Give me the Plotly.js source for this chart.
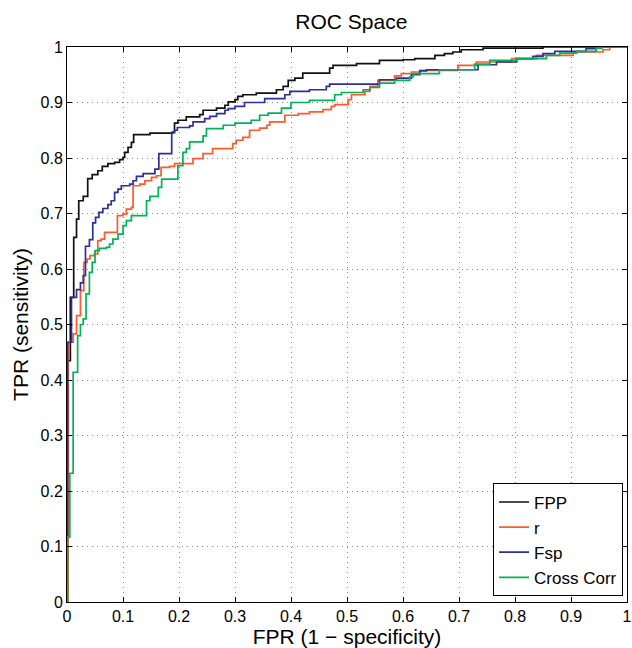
<!DOCTYPE html>
<html>
<head>
<meta charset="utf-8">
<script src="https://cdn.plot.ly/plotly-3.0.1.min.js"></script>
<style>html,body{margin:0;padding:0;background:#fff;}#chart{width:632px;height:648px;}</style>
</head>
<body>
<div id="chart"></div>
<script>
// FPP
var fppX = [0, 0.002, 0.006, 0.012, 0.017, 0.021, 0.029, 0.037, 0.045, 0.055, 0.063, 0.073, 0.085, 0.094, 0.100, 0.103, 0.109, 0.115, 0.119, 0.148, 0.189, 0.192, 0.198, 0.213, 0.237, 0.243, 0.267, 0.282, 0.288, 0.300, 0.305, 0.314, 0.338, 0.374, 0.386, 0.395, 0.407, 0.421, 0.469, 0.475, 0.517, 0.558, 0.600, 0.621, 0.657, 0.674, 0.689, 0.704, 0.743, 0.850, 1.0];
var fppY = [0, 0.435, 0.549, 0.657, 0.690, 0.723, 0.731, 0.763, 0.770, 0.777, 0.785, 0.790, 0.792, 0.797, 0.801, 0.810, 0.819, 0.828, 0.842, 0.845, 0.846, 0.863, 0.868, 0.874, 0.878, 0.886, 0.890, 0.895, 0.901, 0.905, 0.911, 0.914, 0.917, 0.923, 0.929, 0.940, 0.944, 0.953, 0.962, 0.967, 0.970, 0.976, 0.977, 0.979, 0.985, 0.988, 0.991, 0.995, 0.998, 1.0, 1.0];

// r
var rX = [0, 0.002, 0.011, 0.017, 0.024, 0.030, 0.036, 0.041, 0.049, 0.055, 0.061, 0.067, 0.090, 0.100, 0.106, 0.115, 0.118, 0.130, 0.139, 0.151, 0.160, 0.168, 0.183, 0.192, 0.225, 0.243, 0.260, 0.296, 0.302, 0.314, 0.326, 0.344, 0.357, 0.362, 0.389, 0.413, 0.433, 0.457, 0.472, 0.478, 0.502, 0.508, 0.532, 0.541, 0.555, 0.585, 0.597, 0.615, 0.630, 0.698, 0.731, 0.794, 0.838, 0.904, 0.957, 0.969, 1.0];
var rY = [0, 0.468, 0.483, 0.516, 0.561, 0.612, 0.618, 0.624, 0.627, 0.651, 0.654, 0.666, 0.696, 0.699, 0.708, 0.711, 0.750, 0.753, 0.759, 0.765, 0.768, 0.783, 0.785, 0.790, 0.799, 0.808, 0.817, 0.826, 0.832, 0.837, 0.850, 0.854, 0.859, 0.865, 0.877, 0.880, 0.883, 0.887, 0.893, 0.896, 0.905, 0.914, 0.920, 0.929, 0.940, 0.948, 0.952, 0.955, 0.958, 0.967, 0.973, 0.979, 0.985, 0.991, 0.995, 1.0, 1.0];

// Fsp
var fspX = [0, 0, 0.001, 0.008, 0.017, 0.024, 0.029, 0.033, 0.040, 0.046, 0.051, 0.057, 0.064, 0.073, 0.079, 0.085, 0.091, 0.097, 0.112, 0.118, 0.124, 0.136, 0.157, 0.164, 0.187, 0.192, 0.197, 0.219, 0.225, 0.246, 0.255, 0.267, 0.282, 0.288, 0.300, 0.317, 0.353, 0.389, 0.398, 0.433, 0.463, 0.469, 0.558, 0.588, 0.615, 0.630, 0.642, 0.734, 0.767, 0.803, 0.832, 0.850, 0.871, 0.927, 0.945, 1.0];
var fspY = [0, 0.12, 0.468, 0.549, 0.563, 0.575, 0.588, 0.641, 0.653, 0.683, 0.693, 0.702, 0.709, 0.716, 0.723, 0.738, 0.744, 0.750, 0.753, 0.759, 0.767, 0.772, 0.780, 0.808, 0.846, 0.850, 0.855, 0.858, 0.865, 0.871, 0.875, 0.880, 0.886, 0.889, 0.893, 0.900, 0.907, 0.914, 0.920, 0.923, 0.929, 0.933, 0.941, 0.944, 0.950, 0.957, 0.959, 0.968, 0.973, 0.979, 0.983, 0.988, 0.992, 0.997, 1.0, 1.0];

// Cross Corr
var ccX = [0, 0.001, 0.005, 0.011, 0.019, 0.024, 0.029, 0.034, 0.040, 0.045, 0.050, 0.058, 0.070, 0.076, 0.082, 0.091, 0.100, 0.106, 0.115, 0.142, 0.148, 0.163, 0.169, 0.198, 0.207, 0.213, 0.219, 0.243, 0.249, 0.279, 0.300, 0.329, 0.344, 0.359, 0.383, 0.400, 0.433, 0.478, 0.490, 0.529, 0.541, 0.558, 0.585, 0.612, 0.618, 0.665, 0.728, 0.755, 0.803, 0.856, 0.880, 0.910, 0.945, 0.955, 1.0];
var ccY = [0, 0.117, 0.232, 0.414, 0.480, 0.500, 0.510, 0.555, 0.594, 0.612, 0.633, 0.637, 0.639, 0.645, 0.654, 0.663, 0.678, 0.687, 0.696, 0.723, 0.731, 0.747, 0.762, 0.786, 0.810, 0.817, 0.829, 0.840, 0.853, 0.859, 0.863, 0.868, 0.877, 0.881, 0.890, 0.900, 0.904, 0.914, 0.918, 0.923, 0.927, 0.935, 0.940, 0.946, 0.952, 0.959, 0.969, 0.976, 0.979, 0.985, 0.989, 0.992, 0.998, 1.0, 1.0];

var seriesNames = ['FPP', 'r', 'Fsp', 'Cross Corr'];
var seriesColors = ['#111111', '#ff5a2a', '#2b3199', '#00b25a'];
var xs = [fppX, rX, fspX, ccX];
var ys = [fppY, rY, fspY, ccY];

var ticks = [0, 0.1, 0.2, 0.3, 0.4, 0.5, 0.6, 0.7, 0.8, 0.9, 1];
var tickText = ['0', '0.1', '0.2', '0.3', '0.4', '0.5', '0.6', '0.7', '0.8', '0.9', '1'];

var FONT = 'Liberation Sans, Arial, Helvetica, sans-serif';

var traces = seriesNames.map(function (n, i) {
  return {
    x: xs[i], y: ys[i], name: n, type: 'scatter', mode: 'lines',
    line: {shape: 'hv', color: seriesColors[i], width: 1.7}
  };
});

var axisCommon = {
  range: [0, 1], tickvals: ticks, ticktext: tickText,
  ticks: 'inside', ticklen: 5, tickcolor: '#000', tickwidth: 1,
  showline: true, linecolor: '#000', linewidth: 1, mirror: 'ticks',
  showgrid: true, gridcolor: '#8a8a8a', gridwidth: 1, griddash: '1px,4px',
  zeroline: false, tickfont: {family: FONT, size: 16, color: '#000'},
  fixedrange: true
};

var layout = {
  width: 632, height: 648,
  margin: {l: 67, r: 5, t: 47, b: 46, pad: 0},
  paper_bgcolor: '#fff', plot_bgcolor: '#fff',
  title: {text: 'ROC Space', font: {family: FONT, size: 21, color: '#000'}, x: 0.556, xanchor: 'center', y: 0.967, yanchor: 'middle'},
  xaxis: Object.assign({}, axisCommon, {title: {text: 'FPR (1 \u2212 specificity)', font: {family: FONT, size: 21, color: '#000'}, standoff: 3}}),
  yaxis: Object.assign({}, axisCommon, {title: {text: 'TPR (sensitivity)', font: {family: FONT, size: 21, color: '#000'}, standoff: 6}}),
  showlegend: true,
  legend: {
    x: 0.993, xanchor: 'right', y: 0.01, yanchor: 'bottom',
    bgcolor: '#fff', bordercolor: '#000', borderwidth: 1,
    font: {family: FONT, size: 17, color: '#000'},
    tracegroupgap: 0, itemwidth: 30
  }
};

Plotly.newPlot('chart', traces, layout, {staticPlot: true, displayModeBar: false});
</script>
</body>
</html>
